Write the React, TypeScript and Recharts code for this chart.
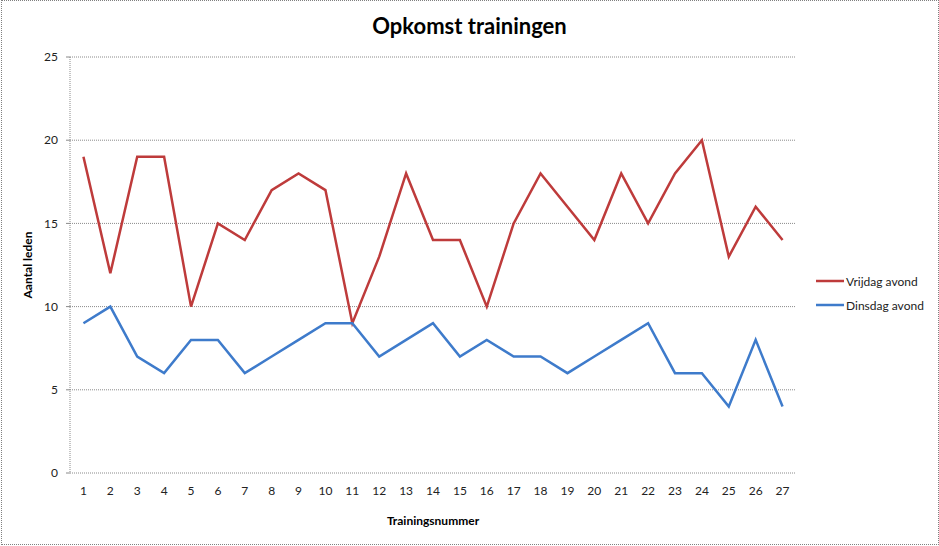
import React from "react";
import { LineChart, Line, XAxis, YAxis, CartesianGrid, Legend } from "recharts";

const trainingen = ["1","2","3","4","5","6","7","8","9","10","11","12","13","14","15","16","17","18","19","20","21","22","23","24","25","26","27"];
const vrijdag = [19,12,19,19,10,15,14,17,18,17,9,13,18,14,14,10,15,18,16,14,18,15,18,20,13,16,14];
const dinsdag = [9,10,7,6,8,8,6,7,8,9,9,7,8,9,7,8,7,7,6,7,8,9,6,6,4,8,4];
const seriesNames = ["Vrijdag avond", "Dinsdag avond"];
const yTicks = [0,5,10,15,20,25];
const boundaryTicks = [0,1,2,3,4,5,6,7,8,9,10,11,12,13,14,15,16,17,18,19,20,21,22,23,24,25,26,27];

const data = trainingen.map((t, i) => ({ nr: t, vrijdag: vrijdag[i], dinsdag: dinsdag[i] }));

const FONT = "Lato, 'Open Sans', sans-serif";
const RED = "#BE3B3B";
const BLUE = "#3E7BCB";

const LegendContent = (props: any) => {
  const payload = [...(props.payload || [])].sort(
    (a: any, b: any) => seriesNames.indexOf(a.value) - seriesNames.indexOf(b.value)
  );
  return (
    <div style={{ fontFamily: FONT, fontSize: 12, color: "#222" }}>
      {payload.map((p: any) => (
        <div key={p.value} style={{ display: "flex", alignItems: "center", height: 24 }}>
          <svg width={28} height={6} style={{ marginRight: 2 }}>
            <line x1={0} y1={3} x2={28} y2={3} stroke={p.color} strokeWidth={2.5} />
          </svg>
          <span>{p.value}</span>
        </div>
      ))}
    </div>
  );
};

export default function App() {
  return (
    <div style={{ position: "absolute", left: 0, top: 0, width: 939, height: 546, background: "#fff" }}>
      <div
        style={{
          position: "absolute",
          left: 1,
          top: 0,
          width: 938,
          height: 545,
          border: "1px dotted #808080",
          boxSizing: "border-box",
        }}
      />
      <div
        style={{
          position: "absolute",
          left: 0,
          top: 12,
          width: 939,
          textAlign: "center",
          fontFamily: FONT,
          fontWeight: 700,
          fontSize: 22,
          color: "#000",
        }}
      >
        Opkomst trainingen
      </div>
      <LineChart
        width={939}
        height={546}
        data={data}
        margin={{ top: 57, right: 143, bottom: 13, left: 0 }}
        style={{ fontFamily: FONT }}
      >
        <CartesianGrid
          vertical={false}
          stroke="#8a8a8a"
          strokeDasharray="1 1"
          yAxisId="y"
          xAxisId="main"
        />
        <XAxis
          xAxisId={0}
          type="number"
          domain={[0, 27]}
          ticks={boundaryTicks}
          tick={false}
          tickSize={4}
          tickLine={{ stroke: "#8a8a8a" }}
          axisLine={{ stroke: "#8a8a8a", strokeDasharray: "1 1" }}
          height={0}
          allowDataOverflow
        />
        <XAxis
          xAxisId="main"
          dataKey="nr"
          scale="band"
          interval={0}
          axisLine={false}
          tickLine={false}
          tickSize={0}
          tickMargin={13}
          height={60}
          tick={{ fontSize: 12, fill: "#222", fontFamily: FONT }}
          label={{
            value: "Trainingsnummer",
            position: "insideBottom",
            offset: 8,
            style: { fontSize: 12, fontWeight: 700, fill: "#000", fontFamily: FONT },
          }}
        />
        <YAxis
          yAxisId="y"
          domain={[0, 25]}
          ticks={yTicks}
          width={70}
          tickSize={4}
          tickMargin={8}
          tickLine={{ stroke: "#8a8a8a" }}
          axisLine={{ stroke: "#8a8a8a", strokeDasharray: "1 1" }}
          tick={{ fontSize: 12, fill: "#222", fontFamily: FONT }}
          label={{
            value: "Aantal leden",
            angle: -90,
            position: "insideLeft",
            offset: 28,
            style: { textAnchor: "middle", fontSize: 12, fontWeight: 700, fill: "#000", fontFamily: FONT },
          }}
        />
        <Legend
          layout="vertical"
          verticalAlign="middle"
          align="center"
          wrapperStyle={{ left: 816, top: 269, width: 120 }}
          content={<LegendContent />}
        />
        <Line
          xAxisId="main"
          yAxisId="y"
          type="linear"
          dataKey="vrijdag"
          name="Vrijdag avond"
          stroke={RED}
          strokeWidth={2.5}
          dot={false}
          activeDot={false}
          isAnimationActive={false}
        />
        <Line
          xAxisId="main"
          yAxisId="y"
          type="linear"
          dataKey="dinsdag"
          name="Dinsdag avond"
          stroke={BLUE}
          strokeWidth={2.5}
          dot={false}
          activeDot={false}
          isAnimationActive={false}
        />
      </LineChart>
    </div>
  );
}
